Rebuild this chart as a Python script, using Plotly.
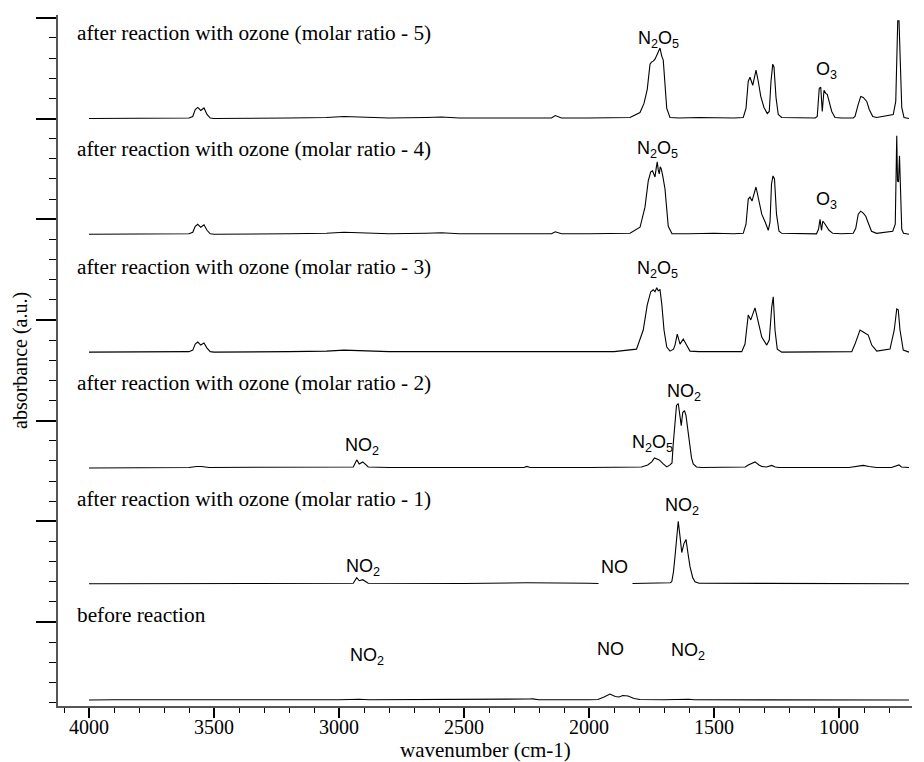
import plotly.graph_objects as go

# ---------------- data (wavenumber in cm-1, absorbance in a.u.) ----------------
wn_r5 = [4000, 3700, 3600, 3585, 3575, 3565, 3553, 3540, 3528, 3515, 3500, 3200, 3050, 2980, 2900, 2800,
         2650, 2590, 2520, 2300, 2150, 2135, 2125, 2110, 2000, 1900, 1836, 1796, 1780, 1767, 1756, 1750,
         1743, 1736, 1729, 1723, 1716, 1712, 1709, 1703, 1696, 1689, 1676, 1640, 1560, 1500, 1420, 1383,
         1372, 1363, 1356, 1345, 1332, 1323, 1313, 1300, 1287, 1279, 1272, 1265, 1260, 1252, 1243, 1229,
         1150, 1095, 1087, 1079, 1073, 1067, 1060, 1053, 1047, 1039, 1029, 1016, 990, 943, 936, 923,
         913, 903, 889, 879, 865, 849, 809, 783, 773, 769, 767, 765, 760, 755, 749, 740, 720]
ab_r5 = [0.0, 0.0, 0.005, 0.02, 0.09, 0.11, 0.08, 0.105, 0.04, 0.005, 0.0, 0.005, 0.01, 0.02, 0.015, 0.005,
         0.01, 0.015, 0.005, 0.005, 0.005, 0.03, 0.02, 0.005, 0.005, 0.01, 0.01, 0.06, 0.15, 0.29, 0.54, 0.56,
         0.57, 0.59, 0.62, 0.66, 0.70, 0.64, 0.62, 0.58, 0.35, 0.10, 0.01, 0.005, 0.01, 0.005, 0.005, 0.01,
         0.10, 0.37, 0.41, 0.33, 0.48, 0.37, 0.22, 0.11, 0.05, 0.07, 0.37, 0.54, 0.51, 0.21, 0.04, 0.01,
         0.005, 0.005, 0.02, 0.30, 0.31, 0.07, 0.28, 0.25, 0.24, 0.17, 0.07, 0.01, 0.005, 0.005, 0.02, 0.14,
         0.22, 0.21, 0.17, 0.09, 0.02, 0.01, 0.025, 0.04, 0.17, 0.67, 0.70, 0.97, 0.97, 0.51, 0.11, 0.01, 0.0]

wn_r4 = [4000, 3700, 3600, 3585, 3575, 3565, 3553, 3540, 3528, 3515, 3500, 3200, 3050, 2980, 2900, 2800,
         2650, 2590, 2520, 2300, 2150, 2135, 2125, 2110, 2000, 1900, 1836, 1796, 1776, 1763, 1753, 1746,
         1740, 1736, 1731, 1727, 1723, 1719, 1715, 1711, 1705, 1696, 1683, 1668, 1600, 1500, 1420, 1383,
         1372, 1363, 1356, 1348, 1332, 1320, 1309, 1295, 1283, 1276, 1270, 1264, 1258, 1250, 1240, 1229,
         1150, 1090, 1082, 1076, 1070, 1065, 1058, 1050, 1040, 1025, 990, 943, 933, 923, 913, 903,
         893, 881, 870, 850, 810, 785, 775, 769, 766, 762, 758, 754, 749, 742, 720]
ab_r4 = [0.0, 0.0, 0.005, 0.02, 0.08, 0.10, 0.07, 0.095, 0.04, 0.005, 0.0, 0.005, 0.01, 0.02, 0.015, 0.005,
         0.01, 0.015, 0.005, 0.005, 0.005, 0.025, 0.015, 0.005, 0.005, 0.01, 0.01, 0.07, 0.27, 0.53, 0.62, 0.63,
         0.60, 0.57, 0.66, 0.72, 0.64, 0.60, 0.67, 0.65, 0.58, 0.45, 0.08, 0.005, 0.005, 0.01, 0.005, 0.01,
         0.10, 0.35, 0.37, 0.33, 0.47, 0.32, 0.20, 0.12, 0.04, 0.12, 0.50, 0.58, 0.55, 0.20, 0.03, 0.01,
         0.005, 0.005, 0.05, 0.15, 0.04, 0.13, 0.11, 0.08, 0.04, 0.01, 0.005, 0.01, 0.06, 0.20, 0.23, 0.21,
         0.18, 0.10, 0.03, 0.01, 0.02, 0.03, 0.10, 0.98, 0.53, 0.52, 0.78, 0.35, 0.05, 0.01, 0.0]

wn_r3 = [4000, 3700, 3600, 3585, 3575, 3565, 3553, 3540, 3528, 3515, 3500, 3200, 3050, 2980, 2900, 2800,
         2600, 2300, 2000, 1900, 1810, 1783, 1767, 1753, 1743, 1736, 1729, 1723, 1716, 1709, 1700, 1689,
         1676, 1662, 1656, 1647, 1636, 1623, 1612, 1596, 1560, 1450, 1389, 1376, 1363, 1353, 1336, 1323,
         1309, 1289, 1279, 1269, 1263, 1256, 1247, 1229, 1100, 1000, 949, 936, 916, 903, 883, 869,
         849, 796, 779, 769, 763, 756, 743, 720]
ab_r3 = [0.0, 0.0, 0.005, 0.02, 0.08, 0.10, 0.07, 0.09, 0.04, 0.005, 0.0, 0.005, 0.01, 0.02, 0.015, 0.005,
         0.005, 0.005, 0.005, 0.005, 0.03, 0.22, 0.47, 0.60, 0.62, 0.60, 0.64, 0.61, 0.62, 0.48, 0.22, 0.05,
         0.01, 0.03, 0.07, 0.18, 0.08, 0.13, 0.08, 0.01, 0.005, 0.005, 0.005, 0.08, 0.37, 0.32, 0.44, 0.30,
         0.15, 0.07, 0.12, 0.45, 0.55, 0.22, 0.03, 0.0, 0.005, 0.005, 0.005, 0.08, 0.22, 0.20, 0.17, 0.07,
         0.01, 0.03, 0.22, 0.43, 0.42, 0.22, 0.02, 0.0]

wn_r2 = [4000, 3600, 3570, 3550, 3520, 3000, 2943, 2929, 2919, 2905, 2883, 2800, 2500, 2260, 2249, 2235,
         2000, 1850, 1790, 1765, 1749, 1738, 1728, 1719, 1703, 1689, 1676, 1668, 1663, 1656, 1650, 1643,
         1636, 1631, 1625, 1618, 1612, 1604, 1599, 1590, 1583, 1570, 1550, 1400, 1375, 1363, 1345, 1336,
         1320, 1309, 1290, 1269, 1255, 1240, 960, 930, 903, 880, 850, 790, 770, 760, 750, 720]
ab_r2 = [0.0, 0.005, 0.015, 0.015, 0.005, 0.005, 0.01, 0.08, 0.04, 0.06, 0.01, 0.005, 0.005, 0.005, 0.015, 0.005,
         0.005, 0.005, 0.01, 0.03, 0.06, 0.10, 0.09, 0.08, 0.04, 0.01, 0.03, 0.05, 0.24, 0.45, 0.62, 0.64,
         0.50, 0.42, 0.55, 0.57, 0.52, 0.35, 0.25, 0.10, 0.04, 0.01, 0.005, 0.005, 0.01, 0.03, 0.05, 0.06,
         0.03, 0.015, 0.01, 0.025, 0.01, 0.005, 0.005, 0.015, 0.025, 0.015, 0.005, 0.005, 0.025, 0.03, 0.01, 0.005]

wn_r1 = [4000, 3600, 3000, 2943, 2929, 2919, 2905, 2883, 2500, 2249, 2000, 1962, 1950, 1826, 1700, 1675,
         1669, 1662, 1656, 1649, 1643, 1636, 1629, 1620, 1612, 1604, 1596, 1585, 1576, 1560, 720]
ab_r1 = [0.0, 0.003, 0.003, 0.005, 0.06, 0.03, 0.04, 0.005, 0.003, 0.01, 0.005, 0.003, None, 0.003, 0.005, 0.01,
         0.02, 0.12, 0.27, 0.51, 0.62, 0.47, 0.31, 0.40, 0.44, 0.30, 0.17, 0.06, 0.02, 0.005, 0.0]

wn_r0 = [4000, 3900, 3000, 2920, 2880, 2300, 2240, 2225, 2200, 2000, 1964, 1940, 1916, 1895, 1880, 1865,
         1844, 1820, 1796, 1700, 1640, 1620, 1600, 1580, 720]
ab_r0 = [0.0, 0.003, 0.003, 0.008, 0.003, 0.003, 0.01, 0.012, 0.003, 0.003, 0.005, 0.03, 0.06, 0.035, 0.03, 0.045,
         0.04, 0.015, 0.005, 0.003, 0.01, 0.013, 0.008, 0.003, 0.0]

spectrum_names = [
    "after reaction with ozone (molar ratio - 5)",
    "after reaction with ozone (molar ratio - 4)",
    "after reaction with ozone (molar ratio - 3)",
    "after reaction with ozone (molar ratio - 2)",
    "after reaction with ozone (molar ratio - 1)",
    "before reaction",
]
spectra_wn = [wn_r5, wn_r4, wn_r3, wn_r2, wn_r1, wn_r0]
spectra_ab = [ab_r5, ab_r4, ab_r3, ab_r2, ab_r1, ab_r0]

# peak labels: (spectrum index, text, wavenumber, height above that spectrum's baseline)
peak_labels = [
    (0, "N<sub>2</sub>O<sub>5</sub>", 1724, 0.78),
    (0, "O<sub>3</sub>", 1052, 0.48),
    (1, "N<sub>2</sub>O<sub>5</sub>", 1728, 0.84),
    (1, "O<sub>3</sub>", 1052, 0.34),
    (2, "N<sub>2</sub>O<sub>5</sub>", 1728, 0.82),
    (3, "NO<sub>2</sub>", 1620, 0.75),
    (3, "N<sub>2</sub>O<sub>5</sub>", 1748, 0.24),
    (3, "NO<sub>2</sub>", 2908, 0.21),
    (4, "NO<sub>2</sub>", 1628, 0.77),
    (4, "NO", 1900, 0.17),
    (4, "NO<sub>2</sub>", 2904, 0.16),
    (5, "NO<sub>2</sub>", 2888, 0.43),
    (5, "NO", 1916, 0.51),
    (5, "NO<sub>2</sub>", 1604, 0.48),
]

x_ticks = [4000, 3500, 3000, 2500, 2000, 1500, 1000]
x_tick_labels = ["4000", "3500", "3000", "2500", "2000", "1500", "1000"]

# ---------------- layout constants ----------------
OFFSETS = [5.0, 3.85, 2.68, 1.53, 0.38, -0.775]
SERIF = "Liberation Serif, Times New Roman, serif"
SANS = "Liberation Sans, Arial, sans-serif"

for w, a in zip(spectra_wn, spectra_ab):
    assert len(w) == len(a)

fig = go.Figure()
for name, w, a, off in zip(spectrum_names, spectra_wn, spectra_ab, OFFSETS):
    fig.add_trace(go.Scatter(
        x=w, y=[None if v is None else v + off for v in a],
        mode="lines", line=dict(color="black", width=1.1),
        name=name, showlegend=False, connectgaps=False,
    ))

annotations = []
for name, off in zip(spectrum_names, OFFSETS):
    annotations.append(dict(
        x=4056, y=off + 0.845, xref="x", yref="y", text=name, showarrow=False,
        xanchor="left", yanchor="middle", font=dict(family=SERIF, size=21.3, color="black"),
    ))
for idx, txt, w, h in peak_labels:
    annotations.append(dict(
        x=w, y=OFFSETS[idx] + h, xref="x", yref="y", text=txt, showarrow=False,
        xanchor="center", yanchor="middle", font=dict(family=SANS, size=18, color="black"),
    ))
# x tick labels, placed just under the tick marks
for v, t in zip(x_ticks, x_tick_labels):
    annotations.append(dict(
        x=v, y=0, xref="x", yref="paper", yanchor="top", yshift=-8, text=t, showarrow=False,
        font=dict(family=SERIF, size=20, color="black"),
    ))
annotations.append(dict(
    x=0.5, y=0, xref="paper", yref="paper", yanchor="top", yshift=-30,
    text="wavenumber (cm-1)", showarrow=False, font=dict(family=SERIF, size=21, color="black"),
))
annotations.append(dict(
    x=0, y=0.5, xref="paper", yref="paper", xanchor="right", xshift=-24,
    text="absorbance (a.u.)", textangle=-90, showarrow=False,
    font=dict(family=SERIF, size=20, color="black"),
))

# the page body adds an 8 px margin, so the figure is 8 px smaller each way
fig.update_layout(
    width=916, height=754,
    margin=dict(l=50, r=12, t=7, b=56),
    paper_bgcolor="white", plot_bgcolor="white",
    annotations=annotations,
    xaxis=dict(
        range=[4124, 708], tickmode="array", tickvals=x_ticks, showticklabels=False,
        ticks="outside", ticklen=10, tickwidth=1.5, tickcolor="black",
        showline=True, linecolor="#555", linewidth=1.5, showgrid=False, zeroline=False,
        minor=dict(tickmode="linear", tick0=0, dtick=100, ticks="outside", ticklen=5, tickwidth=1, tickcolor="black", showgrid=False),
    ),
    yaxis=dict(
        range=[-0.834, 6.028], tick0=0, dtick=1, showticklabels=False,
        ticks="outside", ticklen=20, tickwidth=1.8, tickcolor="black",
        showline=True, linecolor="#555", linewidth=1.5, showgrid=False, zeroline=False,
        minor=dict(tick0=0, dtick=0.2, ticks="outside", ticklen=7, tickwidth=1, tickcolor="black", showgrid=False),
    ),
)

fig.write_html("out.html")
